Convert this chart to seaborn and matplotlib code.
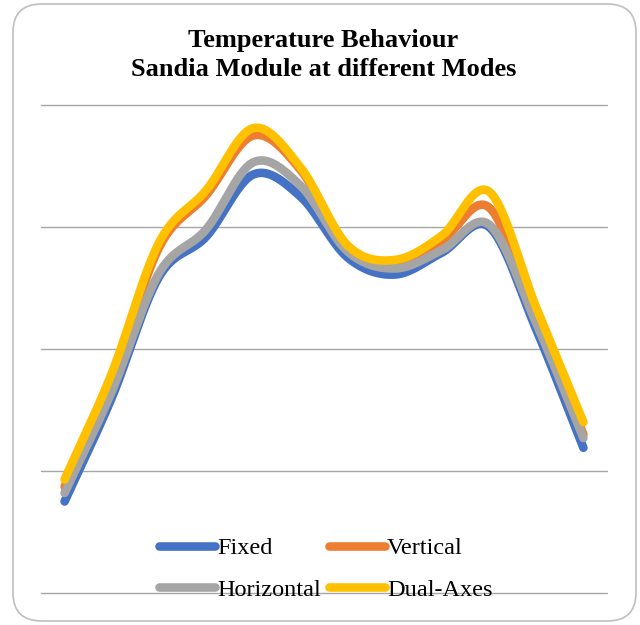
import numpy as np
import pandas as pd
import matplotlib
matplotlib.use("Agg")
import matplotlib.pyplot as plt
import seaborn as sns
from matplotlib.patches import FancyBboxPatch

# ---- data (arbitrary temperature units) ----
points = list(range(1, 13))
fixed      = [7.5, 16.0, 25.9, 29.2, 34.3, 32.5, 27.5, 26.1, 27.9, 30.0, 21.6, 11.9]
vertical   = [8.7, 17.3, 28.3, 32.6, 37.5, 34.7, 28.3, 27.1, 28.9, 31.6, 22.4, 13.0]
horizontal = [8.2, 16.5, 26.2, 29.8, 35.3, 33.4, 28.0, 26.6, 28.1, 30.2, 22.1, 12.7]
dual_axes  = [9.3, 18.0, 28.7, 33.0, 38.1, 34.9, 28.5, 27.3, 29.3, 32.9, 23.4, 14.0]
series_names = ["Fixed", "Vertical", "Horizontal", "Dual-Axes"]
title_lines = ["Temperature Behaviour", "Sandia Module at different Modes"]
y_grid = [0, 10, 20, 30, 40]

colors = ["#4472C4", "#ED7D31", "#A5A5A5", "#FFC000"]


def smooth(xs, ys, n=30):
    """Catmull-Rom style smoothing (like Excel smoothed lines)."""
    xs = np.asarray(xs, float)
    ys = np.asarray(ys, float)
    px = np.concatenate([[2 * xs[0] - xs[1]], xs, [2 * xs[-1] - xs[-2]]])
    py = np.concatenate([[2 * ys[0] - ys[1]], ys, [2 * ys[-1] - ys[-2]]])
    ox, oy = [], []
    for i in range(1, len(px) - 2):
        p0x, p1x, p2x, p3x = px[i - 1:i + 3]
        p0y, p1y, p2y, p3y = py[i - 1:i + 3]
        c1x, c1y = p1x + (p2x - p0x) / 6, p1y + (p2y - p0y) / 6
        c2x, c2y = p2x - (p3x - p1x) / 6, p2y - (p3y - p1y) / 6
        t = np.linspace(0, 1, n, endpoint=(i == len(px) - 3))
        b0 = (1 - t) ** 3
        b1 = 3 * (1 - t) ** 2 * t
        b2 = 3 * (1 - t) * t ** 2
        b3 = t ** 3
        ox.append(b0 * p1x + b1 * c1x + b2 * c2x + b3 * p2x)
        oy.append(b0 * p1y + b1 * c1y + b2 * c2y + b3 * p2y)
    return np.concatenate(ox), np.concatenate(oy)


frames = []
for name, vals in zip(series_names, [fixed, vertical, horizontal, dual_axes]):
    sx, sy = smooth(np.arange(len(points)), vals)
    frames.append(pd.DataFrame({"x": sx, "y": sy, "series": name}))
df = pd.concat(frames, ignore_index=True)

sns.set_theme(style="white")
plt.rcParams["font.family"] = ["Liberation Serif", "DejaVu Serif"]
plt.rcParams["text.color"] = "black"

fig = plt.figure(figsize=(6.4, 6.25), dpi=100)
ax = fig.add_axes([41 / 640, 1 - 593 / 625, (607 - 41) / 640, (593 - 105) / 625])

# rounded figure border
border = FancyBboxPatch((13 / 640, 4 / 625), (636 - 13) / 640, (621 - 4) / 625,
                        boxstyle="round,pad=0,rounding_size=0.045",
                        transform=fig.transFigure, facecolor="white",
                        edgecolor="#BFBFBF", linewidth=1.2, zorder=-10)
fig.patches.append(border)

for g in y_grid:
    ax.axhline(g, color="#A6A6A6", lw=1.0, zorder=0, clip_on=False)

sns.lineplot(data=df, x="x", y="y", hue="series", hue_order=series_names,
             palette=colors, sort=False, estimator=None, lw=6.2,
             solid_capstyle="round", ax=ax, legend=False)

ax.set_xlim(-0.5, len(points) - 0.5)
ax.set_ylim(y_grid[0], y_grid[-1])
ax.set_xticks([])
ax.set_yticks([])
ax.set_xlabel("")
ax.set_ylabel("")
for s in ax.spines.values():
    s.set_visible(False)
ax.patch.set_alpha(0)

fig.text(0.505, 1 - 40 / 625, title_lines[0], ha="center", va="center",
         fontsize=19, fontweight="bold", color="black")
fig.text(0.505, 1 - 70 / 625, title_lines[1], ha="center", va="center",
         fontsize=19, fontweight="bold", color="black")

handles = [plt.Line2D([], [], color=c, lw=6.2, solid_capstyle="round") for c in colors]
# row-major order: Fixed, Vertical / Horizontal, Dual-Axes
order = [0, 2, 1, 3]
leg = fig.legend([handles[i] for i in order], [series_names[i] for i in order],
                 loc="center", ncol=2,
                 bbox_to_anchor=(0.509, 1 - 569 / 625), frameon=False,
                 fontsize=17.5, handlelength=2.3, handletextpad=0.08,
                 columnspacing=0.35, labelspacing=0.8, borderpad=0)
for t in leg.get_texts():
    t.set_color("black")

fig.savefig("out.png", dpi=100)
